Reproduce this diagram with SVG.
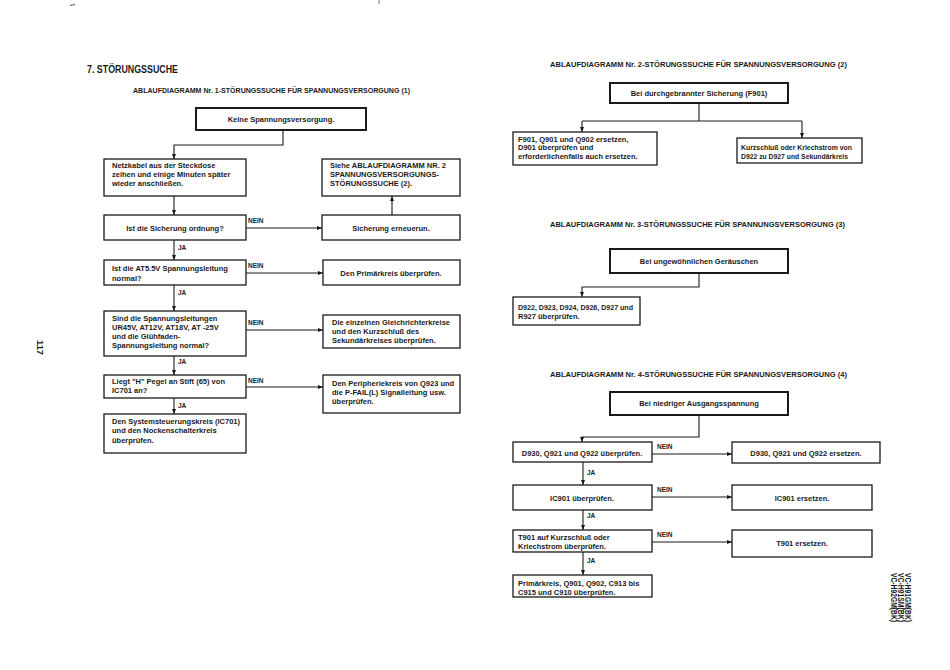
<svg xmlns="http://www.w3.org/2000/svg" width="950" height="670" viewBox="0 0 950 670">
<style>
text{font-family:"Liberation Sans",Arial,sans-serif;font-weight:bold;fill:#1a1a1a}
.t{font-size:7.5px}
.c{text-anchor:middle}
.h{font-size:7.2px}
.lbl{font-size:6.5px}
.box{fill:#fff;stroke:#1a1a1a;stroke-width:1.3}
.tbox{fill:#fff;stroke:#1a1a1a;stroke-width:2}
.ln{fill:none;stroke:#1a1a1a;stroke-width:1.1}
.ar{fill:none;stroke:#1a1a1a;stroke-width:1.1;marker-end:url(#ah)}
</style>
<defs>
<marker id="ah" viewBox="0 0 10 10" refX="10" refY="5" markerWidth="5" markerHeight="5" markerUnits="userSpaceOnUse" orient="auto">
<path d="M0,1 L10,5 L0,9 z" fill="#1a1a1a"/>
</marker>
</defs>
<rect width="950" height="670" fill="#fff"/>
<line x1="70" y1="5.5" x2="75" y2="4.5" stroke="#555" stroke-width="1"/>
<line x1="379" y1="0" x2="379" y2="4" stroke="#777" stroke-width="1"/>

<text x="87" y="73" style="font-size:11.5px" textLength="91" lengthAdjust="spacingAndGlyphs">7. STÖRUNGSSUCHE</text>
<text class="h" x="133" y="93" textLength="277" lengthAdjust="spacingAndGlyphs">ABLAUFDIAGRAMM Nr. 1-STÖRUNGSSUCHE FÜR SPANNUNGSVERSORGUNG (1)</text>
<text class="h" x="550" y="67" textLength="297" lengthAdjust="spacingAndGlyphs">ABLAUFDIAGRAMM Nr. 2-STÖRUNGSSUCHE FÜR SPANNUNGSVERSORGUNG (2)</text>
<text class="h" x="550" y="227" textLength="295" lengthAdjust="spacingAndGlyphs">ABLAUFDIAGRAMM Nr. 3-STÖRUNGSSUCHE FÜR SPANNUNGSVERSORGUNG (3)</text>
<text class="h" x="550" y="377" textLength="297" lengthAdjust="spacingAndGlyphs">ABLAUFDIAGRAMM Nr. 4-STÖRUNGSSUCHE FÜR SPANNUNGSVERSORGUNG (4)</text>

<g id="connectors">
<polyline class="ar" points="283,130 283,145 174,145 174,159"/>
<line class="ar" x1="174" y1="196" x2="174" y2="215"/>
<line class="ar" x1="246" y1="228" x2="322" y2="228"/>
<line class="ar" x1="392" y1="215" x2="392" y2="196"/>
<line class="ar" x1="174" y1="240" x2="174" y2="260"/>
<line class="ar" x1="246" y1="273" x2="323" y2="273"/>
<line class="ar" x1="174" y1="285" x2="174" y2="311"/>
<line class="ar" x1="246" y1="330" x2="323" y2="330"/>
<line class="ar" x1="174" y1="356" x2="174" y2="375"/>
<line class="ar" x1="246" y1="387" x2="323" y2="387"/>
<line class="ar" x1="174" y1="398" x2="174" y2="414"/>
<polyline class="ln" points="699,103 699,121"/>
<line class="ln" x1="582" y1="121" x2="802" y2="121"/>
<line class="ar" x1="582" y1="121" x2="582" y2="132"/>
<line class="ar" x1="802" y1="121" x2="802" y2="138"/>
<polyline class="ar" points="699,273 699,287 582,287 582,297"/>
<polyline class="ar" points="699,415 699,437 582,437 582,442"/>
<line class="ar" x1="652" y1="454" x2="732" y2="454"/>
<line class="ar" x1="583" y1="462" x2="583" y2="485"/>
<line class="ar" x1="652" y1="497" x2="732" y2="497"/>
<line class="ar" x1="583" y1="510" x2="583" y2="530"/>
<line class="ar" x1="652" y1="542" x2="732" y2="542"/>
<line class="ar" x1="583" y1="552" x2="583" y2="575"/>
<text class="lbl" x="248" y="223">NEIN</text>
<text class="lbl" x="178" y="250">JA</text>
<text class="lbl" x="248" y="268">NEIN</text>
<text class="lbl" x="178" y="295">JA</text>
<text class="lbl" x="248" y="325">NEIN</text>
<text class="lbl" x="178" y="364">JA</text>
<text class="lbl" x="248" y="383">NEIN</text>
<text class="lbl" x="178" y="408">JA</text>
<text class="lbl" x="657" y="449">NEIN</text>
<text class="lbl" x="587" y="475">JA</text>
<text class="lbl" x="657" y="492">NEIN</text>
<text class="lbl" x="587" y="518">JA</text>
<text class="lbl" x="657" y="537">NEIN</text>
<text class="lbl" x="587" y="563">JA</text>
</g>

<g id="n1-start"><rect class="tbox" x="196" y="108" width="170" height="22"/><text class="t c" x="281" y="122">Keine Spannungsversorgung.</text></g>
<g id="n1-netz"><rect class="box" x="104" y="159" width="142" height="37"/>
<text class="t" x="112" y="168">Netzkabel aus der Steckdose</text>
<text class="t" x="112" y="177">zeihen und einige Minuten später</text>
<text class="t" x="112" y="186">wieder anschließen.</text></g>
<g id="n1-siehe"><rect class="box" x="322" y="159" width="138" height="37"/>
<text class="t" x="330" y="168">Siehe ABLAUFDIAGRAMM NR. 2</text>
<text class="t" x="330" y="177">SPANNUNGSVERSORGUNGS-</text>
<text class="t" x="330" y="186">STÖRUNGSSUCHE (2).</text></g>
<g id="n1-sicherung"><rect class="box" x="104" y="215" width="142" height="25"/><text class="t c" x="175" y="230.5">Ist die Sicherung ordnung?</text></g>
<g id="n1-erneuern"><rect class="box" x="322" y="215" width="138" height="25"/><text class="t c" x="391" y="230.5">Sicherung erneuerun.</text></g>
<g id="n1-at55"><rect class="box" x="104" y="260" width="142" height="25"/>
<text class="t" x="112" y="271">Ist die AT5.5V Spannungsleitung</text>
<text class="t" x="112" y="280.5">normal?</text></g>
<g id="n1-primaer"><rect class="box" x="323" y="260" width="137" height="25"/><text class="t c" x="391" y="275.5">Den Primärkreis überprüfen.</text></g>
<g id="n1-leitungen"><rect class="box" x="104" y="311" width="142" height="45"/>
<text class="t" x="112" y="321">Sind die Spannungsleitungen</text>
<text class="t" x="112" y="330">UR45V, AT12V, AT18V, AT -25V</text>
<text class="t" x="112" y="339">und die Glühfaden-</text>
<text class="t" x="112" y="348">Spannungsleitung normal?</text></g>
<g id="n1-gleich"><rect class="box" x="323" y="315" width="137" height="33"/>
<text class="t" x="332" y="324.5">Die einzelnen Gleichrichterkreise</text>
<text class="t" x="332" y="333.5">und den Kurzschluß des</text>
<text class="t" x="332" y="342.5">Sekundärkreises überprüfen.</text></g>
<g id="n1-pegel"><rect class="box" x="104" y="375" width="142" height="23"/>
<text class="t" x="112" y="384">Liegt "H" Pegel an Stift (65) von</text>
<text class="t" x="112" y="393">IC701 an?</text></g>
<g id="n1-peripherie"><rect class="box" x="323" y="375" width="137" height="38"/>
<text class="t" x="332" y="385.5">Den Peripheriekreis von Q923 und</text>
<text class="t" x="332" y="394.5">die P-FAIL(L) Signalleitung usw.</text>
<text class="t" x="332" y="404">überprüfen.</text></g>
<g id="n1-system"><rect class="box" x="104" y="414" width="142" height="39"/>
<text class="t" x="112" y="423.5">Den Systemsteuerungskreis (IC701)</text>
<text class="t" x="112" y="433">und den Nockenschalterkreis</text>
<text class="t" x="112" y="442.5">überprüfen.</text></g>

<g id="n2-start"><rect class="tbox" x="610" y="83" width="178" height="20"/><text class="t c" x="699" y="96">Bei durchgebrannter Sicherung (F901)</text></g>
<g id="n2-ersetzen"><rect class="box" x="513" y="132" width="144" height="33"/>
<text class="t" x="518" y="141.5">F901, Q901 und Q902 ersetzen,</text>
<text class="t" x="518" y="150">D901 überprüfen und</text>
<text class="t" x="518" y="158.5">erforderlichenfalls auch ersetzen.</text></g>
<g id="n2-kurz"><rect class="box" x="737" y="138" width="125" height="25"/>
<text class="t" x="741" y="150" textLength="111" lengthAdjust="spacingAndGlyphs">Kurzschluß oder Kriechstrom von</text>
<text class="t" x="741" y="159" textLength="107" lengthAdjust="spacingAndGlyphs">D922 zu D927 und Sekundärkreis</text></g>

<g id="n3-start"><rect class="tbox" x="610" y="249" width="178" height="24"/><text class="t c" x="699" y="264">Bei ungewöhnlichen Geräuschen</text></g>
<g id="n3-check"><rect class="box" x="513" y="297" width="127" height="28"/>
<text class="t" x="518" y="310" textLength="115" lengthAdjust="spacingAndGlyphs">D922, D923, D924, D926, D927 und</text>
<text class="t" x="518" y="319">R927 überprüfen.</text></g>

<g id="n4-start"><rect class="tbox" x="610" y="392" width="178" height="23"/><text class="t c" x="699" y="406">Bei niedriger Ausgangsspannung</text></g>
<g id="n4-d930"><rect class="box" x="513" y="442" width="139" height="20"/><text class="t c" x="582" y="456">D930, Q921 und Q922 überprüfen.</text></g>
<g id="n4-d930r"><rect class="box" x="732" y="442" width="148" height="21"/><text class="t c" x="806" y="456">D930, Q921 und Q922 ersetzen.</text></g>
<g id="n4-ic901"><rect class="box" x="513" y="485" width="139" height="25"/><text class="t c" x="582" y="500.5">IC901 überprüfen.</text></g>
<g id="n4-ic901r"><rect class="box" x="732" y="485" width="140" height="25"/><text class="t c" x="802" y="500.5">IC901 ersetzen.</text></g>
<g id="n4-t901"><rect class="box" x="513" y="530" width="139" height="22"/>
<text class="t" x="518" y="539.5">T901 auf Kurzschluß oder</text>
<text class="t" x="518" y="548.5">Kriechstrom überprüfen.</text></g>
<g id="n4-t901r"><rect class="box" x="732" y="530" width="140" height="27"/><text class="t c" x="802" y="546">T901 ersetzen.</text></g>
<g id="n4-primaer"><rect class="box" x="513" y="575" width="139" height="22"/>
<text class="t" x="518" y="585.5">Primärkreis, Q901, Q902, C913 bis</text>
<text class="t" x="518" y="594.5">C915 und C910 überprüfen.</text></g>

<g transform="translate(37,340) rotate(90)"><text x="0" y="0" style="font-size:9.5px" textLength="15" lengthAdjust="spacingAndGlyphs">117</text></g>
<g transform="translate(905,573) rotate(90)" style="font-size:9.5px">
<text x="0" y="0" textLength="49" lengthAdjust="spacingAndGlyphs">VC-H91GM(BK)</text>
<text x="0" y="7.2" textLength="49" lengthAdjust="spacingAndGlyphs">VC-H91SM(BK)</text>
<text x="0" y="14.4" textLength="49" lengthAdjust="spacingAndGlyphs">VC-H92GM(BK)</text>
</g>
</svg>
